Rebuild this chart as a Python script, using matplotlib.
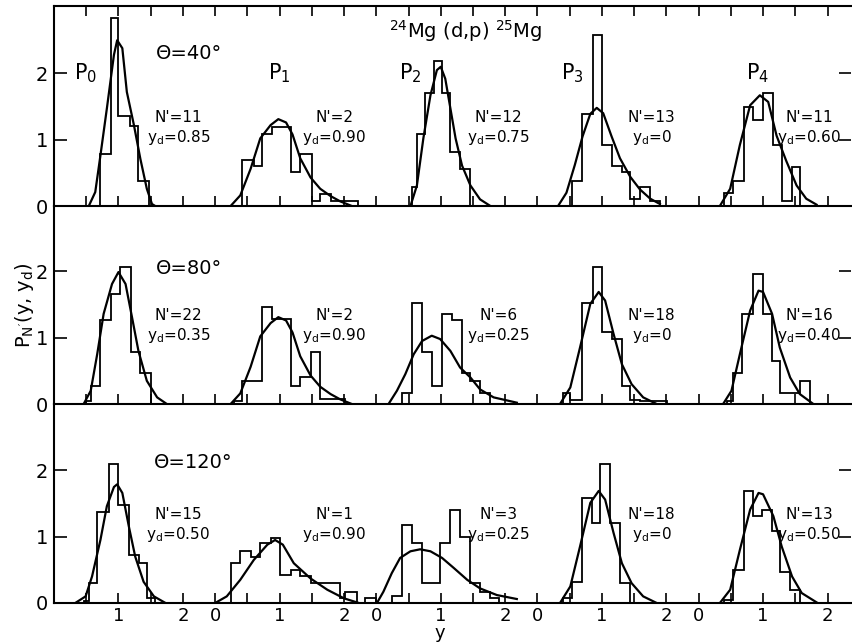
import matplotlib
matplotlib.use('Agg')
import matplotlib.pyplot as plt
import numpy as np
from matplotlib import font_manager

# narrow face if there is one, otherwise DejaVu
installed = {f.name for f in font_manager.fontManager.ttflist}
narrow = [f for f in ['Liberation Sans Narrow', 'DejaVu Sans Condensed'] if f in installed]
plt.rcParams['font.family'] = narrow + ['DejaVu Sans']
plt.rcParams['mathtext.fontset'] = 'custom'
plt.rcParams['mathtext.rm'] = (narrow + ['DejaVu Sans'])[0]

# panel order: P0 .. P4, local y values, each panel 2.5 units wide
angles = ['40', '80', '120']
nprime = [[11, 2, 12, 13, 11], [22, 2, 6, 18, 16], [15, 1, 3, 18, 13]]
yd_vals = [['0.85', '0.90', '0.75', '0', '0.60'],
           ['0.35', '0.90', '0.25', '0', '0.40'],
           ['0.50', '0.90', '0.25', '0', '0.50']]

# histograms (bin edges / heights)
edges_40 = [[0.72, 0.88, 1.00, 1.18, 1.31, 1.47],
            [0.42, 0.60, 0.73, 0.88, 1.18, 1.32, 1.50, 1.63, 1.79, 2.02, 2.22],
            [0.55, 0.63, 0.76, 0.89, 1.02, 1.15, 1.30, 1.46],
            [0.53, 0.69, 0.86, 1.00, 1.15, 1.31, 1.44, 1.59, 1.75, 1.90],
            [0.39, 0.54, 0.70, 0.85, 1.00, 1.16, 1.29, 1.45, 1.57]]
heights_40 = [[0.79, 2.83, 1.36, 1.20, 0.38],
              [0.69, 0.61, 1.09, 1.19, 0.51, 0.79, 0.08, 0.18, 0.08, 0.08],
              [0.28, 1.09, 1.70, 2.18, 1.70, 0.82, 0.56],
              [0.38, 1.39, 2.58, 0.92, 0.61, 0.51, 0.10, 0.28, 0.08],
              [0.20, 0.38, 1.50, 1.29, 1.70, 0.92, 0.08, 0.59]]

edges_80 = [[0.50, 0.57, 0.72, 0.88, 1.03, 1.19, 1.34, 1.50],
            [0.29, 0.42, 0.73, 0.88, 1.17, 1.32, 1.48, 1.63, 2.02],
            [0.40, 0.55, 0.71, 0.86, 1.02, 1.17, 1.33, 1.46, 1.61, 1.77],
            [0.40, 0.51, 0.69, 0.86, 1.00, 1.15, 1.31, 1.44, 1.59, 2.01],
            [0.44, 0.54, 0.67, 0.84, 1.00, 1.14, 1.26, 1.57, 1.73]]
heights_80 = [[0.05, 0.27, 1.26, 1.66, 2.06, 0.78, 0.47],
              [0.05, 0.35, 1.46, 1.28, 0.27, 0.40, 0.78, 0.08],
              [0.17, 1.53, 0.78, 0.27, 1.36, 1.26, 0.47, 0.35, 0.17],
              [0.17, 0.06, 1.53, 2.06, 1.08, 0.98, 0.27, 0.06, 0.05],
              [0.05, 0.47, 1.36, 1.96, 1.36, 0.65, 0.17, 0.35]]

edges_120 = [[0.46, 0.54, 0.67, 0.85, 1.00, 1.16, 1.32, 1.45, 1.57],
             [0.24, 0.39, 0.55, 0.70, 0.86, 1.01, 1.17, 1.32, 1.48, 1.94, 2.02, 2.20, 2.33, 2.49],
             [0.24, 0.40, 0.55, 0.71, 0.99, 1.15, 1.30, 1.46, 1.61, 1.77, 1.90],
             [0.40, 0.53, 0.69, 0.84, 0.97, 1.13, 1.28, 1.44],
             [0.39, 0.54, 0.70, 0.84, 0.98, 1.14, 1.26, 1.42, 1.57]]
heights_120 = [[0.03, 0.30, 1.38, 2.09, 1.48, 0.73, 0.61, 0.07],
               [0.60, 0.78, 0.70, 0.90, 0.98, 0.42, 0.50, 0.40, 0.30, 0.07, 0.17, 0.0, 0.07],
               [0.10, 1.18, 0.90, 0.30, 0.90, 1.41, 1.00, 0.30, 0.17, 0.07],
               [0.07, 0.32, 1.58, 1.21, 2.09, 1.21, 0.30],
               [0.05, 0.50, 1.69, 1.31, 1.41, 1.08, 0.47, 0.20]]

# fitted curves
p1_u = [0.24, 0.39, 0.55, 0.70, 0.86, 0.98, 1.10, 1.20, 1.32, 1.48, 1.63, 1.79, 1.94, 2.12]
p1_v = [0, 0.16, 0.56, 1.02, 1.22, 1.31, 1.26, 1.08, 0.72, 0.43, 0.26, 0.15, 0.07, 0]
p3_u = [0.35, 0.51, 0.66, 0.82, 0.95, 1.05, 1.18, 1.31, 1.46, 1.64, 1.85]
p3_v = [0, 0.25, 0.85, 1.51, 1.69, 1.56, 1.06, 0.60, 0.30, 0.10, 0]

cu_40 = [[0.54, 0.64, 0.72, 0.82, 0.93, 0.98, 1.06, 1.13, 1.24, 1.34, 1.44, 1.52, 1.57],
         p1_u,
         [0.53, 0.63, 0.73, 0.84, 0.94, 1.00, 1.07, 1.15, 1.23, 1.33, 1.46, 1.61, 1.77],
         [0.32, 0.45, 0.58, 0.70, 0.82, 0.92, 1.02, 1.15, 1.28, 1.44, 1.59, 1.75, 1.90],
         [0.33, 0.49, 0.64, 0.80, 0.95, 1.08, 1.21, 1.36, 1.52, 1.67, 1.83]]
cv_40 = [[0, 0.21, 0.76, 1.47, 2.28, 2.50, 2.38, 1.72, 1.22, 0.71, 0.26, 0.03, 0],
         p1_v,
         [0, 0.31, 1.02, 1.67, 2.05, 2.10, 1.92, 1.47, 1.02, 0.61, 0.31, 0.10, 0],
         [0, 0.20, 0.62, 1.05, 1.39, 1.48, 1.40, 1.05, 0.72, 0.44, 0.25, 0.11, 0.03],
         [0, 0.26, 0.92, 1.52, 1.67, 1.57, 1.06, 0.68, 0.31, 0.11, 0.02]]

cu_80 = [[0.46, 0.57, 0.67, 0.77, 0.90, 1.00, 1.11, 1.21, 1.31, 1.44, 1.60, 1.75],
         p1_u,
         [0.19, 0.32, 0.45, 0.58, 0.71, 0.86, 0.99, 1.15, 1.30, 1.46, 1.61, 1.82, 2.18],
         p3_u,
         [0.38, 0.51, 0.64, 0.80, 0.93, 1.00, 1.14, 1.26, 1.42, 1.57, 1.78]]
cv_80 = [[0, 0.20, 0.75, 1.36, 1.81, 1.99, 1.81, 1.31, 0.80, 0.35, 0.10, 0],
         p1_v,
         [0, 0.20, 0.45, 0.75, 0.95, 1.03, 0.98, 0.80, 0.55, 0.40, 0.22, 0.10, 0.02],
         p3_v,
         [0, 0.20, 0.75, 1.41, 1.71, 1.69, 1.36, 0.85, 0.40, 0.15, 0]]

cu_120 = [[0.33, 0.49, 0.59, 0.72, 0.82, 0.93, 0.98, 1.06, 1.16, 1.26, 1.39, 1.55, 1.73],
          [0.0, 0.18, 0.39, 0.60, 0.81, 0.93, 1.05, 1.22, 1.48, 1.74, 2.00, 2.23],
          [0.01, 0.11, 0.24, 0.37, 0.53, 0.68, 0.84, 1.02, 1.20, 1.41, 1.61, 1.87, 2.18],
          p3_u,
          [0.33, 0.49, 0.64, 0.80, 0.93, 1.00, 1.16, 1.29, 1.45, 1.60, 1.83]]
cv_120 = [[0, 0.10, 0.40, 0.95, 1.46, 1.75, 1.79, 1.66, 1.16, 0.70, 0.32, 0.10, 0],
          [0, 0.10, 0.35, 0.65, 0.88, 0.95, 0.88, 0.60, 0.37, 0.20, 0.07, 0],
          [0, 0.17, 0.45, 0.68, 0.78, 0.81, 0.78, 0.68, 0.53, 0.35, 0.22, 0.12, 0.06],
          p3_v,
          [0, 0.20, 0.80, 1.41, 1.66, 1.64, 1.31, 0.85, 0.40, 0.15, 0.01]]

edges_all = [edges_40, edges_80, edges_120]
heights_all = [heights_40, heights_80, heights_120]
cu_all = [cu_40, cu_80, cu_120]
cv_all = [cv_40, cv_80, cv_120]

W = 2.5
fig = plt.figure(figsize=(8.52, 6.44), dpi=100)
left, right = 54 / 852, 851 / 852
row_px = [(6, 206), (206, 404), (404, 603)]
txt_x = [1.93, 1.85, 1.90, 1.77, 1.72]
theta_pos = [(2.09, 2.30), (2.09, 2.05), (2.16, 2.12)]

ticks = np.arange(0.5, 12.01, 0.5)
labels = []
for t in ticks:
    loc = t % W
    labels.append(str(int(loc)) if loc in (0.0, 1.0, 2.0) else '')

for i in range(3):
    top, bot = row_px[i]
    ax = fig.add_axes([left, 1 - bot / 644, right - left, (bot - top) / 644])
    for k in range(5):
        ax.stairs(heights_all[i][k], np.array(edges_all[i][k]) + W * k,
                  baseline=0, color='k', lw=1.3)
        ax.plot(np.array(cu_all[i][k]) + W * k, cv_all[i][k], color='k', lw=1.6)
        ax.text(txt_x[k] + W * k, 1.34, "N'=%d" % nprime[i][k], ha='center', va='center', fontsize=11)
        ax.text(txt_x[k] + W * k, 1.04, r"$\mathregular{y_d}$=" + yd_vals[i][k],
                ha='center', va='center', fontsize=11)
    ax.text(theta_pos[i][0], theta_pos[i][1], 'Θ=%s°' % angles[i], ha='center', va='center', fontsize=14)
    ax.set_xlim(0, (851 - 53.5) / 64.5)
    ax.set_ylim(0, (bot - top) / 66.3)
    ax.set_xticks(ticks)
    ax.set_xticklabels(labels if i == 2 else [''] * len(ticks))
    ax.set_yticks([0, 1, 2])
    ax.set_yticklabels(['0', '1', '2'])
    ax.tick_params(axis='x', direction='in', length=7, width=1.2, top=(i == 0),
                   labelsize=13, pad=3)
    ax.tick_params(axis='y', direction='in', length=9, width=1.2, right=True,
                   labelsize=14, pad=4)
    ax.spines['right'].set_visible(False)
    ax.spines['top'].set_visible(i == 0)
    for s in ['left', 'bottom', 'top']:
        ax.spines[s].set_linewidth(1.5)
    ax.patch.set_alpha(0)
    if i == 0:
        for k in range(5):
            px = [0.49, 3.50, 5.53, 8.05, 10.92][k]
            ax.text(px, 2.0, r'P$\mathregular{_%d}$' % k, ha='center', va='center', fontsize=15)
        ax.text(6.38, 2.64, r'$\mathregular{^{24}}$Mg (d,p) $\mathregular{^{25}}$Mg',
                ha='center', va='center', fontsize=14)

fig.text(24 / 852, 1 - 305 / 644, r"P$\mathregular{_{N'}}$(y, y$\mathregular{_d}$)",
         rotation=90, ha='center', va='center', fontsize=14)
fig.text(440 / 852, 2 / 644, 'y', ha='center', va='bottom', fontsize=13)

fig.savefig('out.png', dpi=100)
